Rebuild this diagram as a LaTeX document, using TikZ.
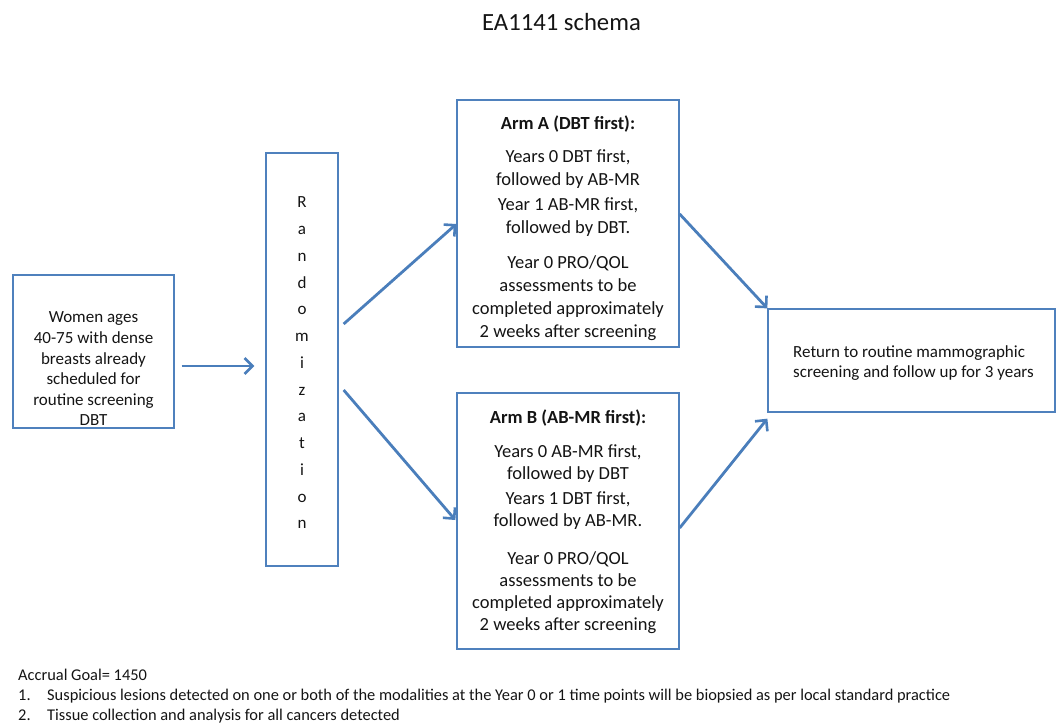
\documentclass[tikz,border=0pt]{standalone}
\usepackage{fontspec}
\setmainfont{Carlito}
\usetikzlibrary{calc,arrows.meta}
\definecolor{boxblue}{RGB}{79,129,189}
\definecolor{arrblue}{RGB}{74,126,187}
\definecolor{txt}{RGB}{20,20,20}
\newcommand{\fsz}[2]{\fontsize{#1}{#2}\selectfont}
\tikzset{
  boxnode/.style={draw=boxblue,line width=1.3pt,inner sep=0pt,fill=none},
  arr/.style={draw=arrblue,line width=2.8pt,-{Straight Barb[length=8pt,width=16pt,line width=2.6pt]}},
  txtnode/.style={text=txt,inner sep=0pt,align=center},
}
\begin{document}
\begin{tikzpicture}[x=1pt,y=-1pt]
\useasboundingbox (0,0) rectangle (1056,723);
% title
\node[txtnode,font=\fsz{24.7}{28}] (title) at (561.5,22) {EA1141 schema};
% boxes
\node[boxnode,minimum width=161pt,minimum height=153pt] (left) at (93.5,351.5) {};
\node[boxnode,minimum width=72pt,minimum height=413pt] (rand) at (302,359.5) {};
\node[boxnode,minimum width=222pt,minimum height=247pt] (armA) at (568,223.5) {};
\node[boxnode,minimum width=222pt,minimum height=256pt] (armB) at (568,521) {};
\node[boxnode,minimum width=287pt,minimum height=103pt] (right) at (911.5,360.5) {};
% texts
\node[txtnode,font=\fsz{17}{20.6}] (lefttext) at (93.5,369) {Women ages\\40-75 with dense\\breasts already\\scheduled for\\routine screening\\DBT};
\node[txtnode,font=\fsz{17}{26.75}] (randtext) at (302,363) {R\\a\\n\\d\\o\\m\\i\\z\\a\\t\\i\\o\\n};
\node[txtnode,font=\fsz{18.5}{23}] (armAtext) at (568,228) {\textbf{Arm A (DBT first):}\\[10pt]Years 0 DBT first,\\followed by AB-MR\\[2pt]Year 1 AB-MR first,\\followed by DBT.\\[12pt]Year 0 PRO/QOL\\assessments to be\\completed approximately\\2 weeks after screening};
\node[txtnode,font=\fsz{18.5}{22}] (armBtext) at (568,522) {\textbf{Arm B (AB-MR first):}\\[12pt]Years 0 AB-MR first,\\followed by DBT\\[3pt]Years 1 DBT first,\\followed by AB-MR.\\[16pt]Year 0 PRO/QOL\\assessments to be\\completed approximately\\2 weeks after screening};
\node[txtnode,align=left,anchor=west,font=\fsz{17}{20}] (righttext) at (793,363) {Return to routine mammographic\\screening and follow up for 3 years};
% arrows
\draw[arr] ($(left.east)+(7,14.5)$) -- ($(rand.west)+(-11,6.5)$);
\draw[arr] ($(rand.east)+(5,-35.5)$) -- ($(armA.west)+(0,0.5)$);
\draw[arr] ($(rand.east)+(5,30.5)$) -- ($(armB.west)+(-1,-1)$);
\draw[arr] ($(armA.east)+(0,-9.5)$) -- (right.north west);
\draw[arr] ($(armB.east)+(0,7)$) -- ($(right.south west)+(0,6)$);
% notes
\tikzset{notefont/.style={font=\fsz{16.4}{20}}}
\node[txtnode,notefont,anchor=base west] (accrual) at (18,680) {Accrual Goal= 1450};
\node[txtnode,notefont,anchor=base west] (n1) at (18,700) {1.};
\node[txtnode,notefont,anchor=base west] (note1) at (47,700) {Suspicious lesions detected on one or both of the modalities at the Year 0 or 1 time points will be biopsied as per local standard practice};
\node[txtnode,notefont,anchor=base west] (n2) at (18,720) {2.};
\node[txtnode,notefont,anchor=base west] (note2) at (47,720) {Tissue collection and analysis for all cancers detected};
\end{tikzpicture}
\end{document}
